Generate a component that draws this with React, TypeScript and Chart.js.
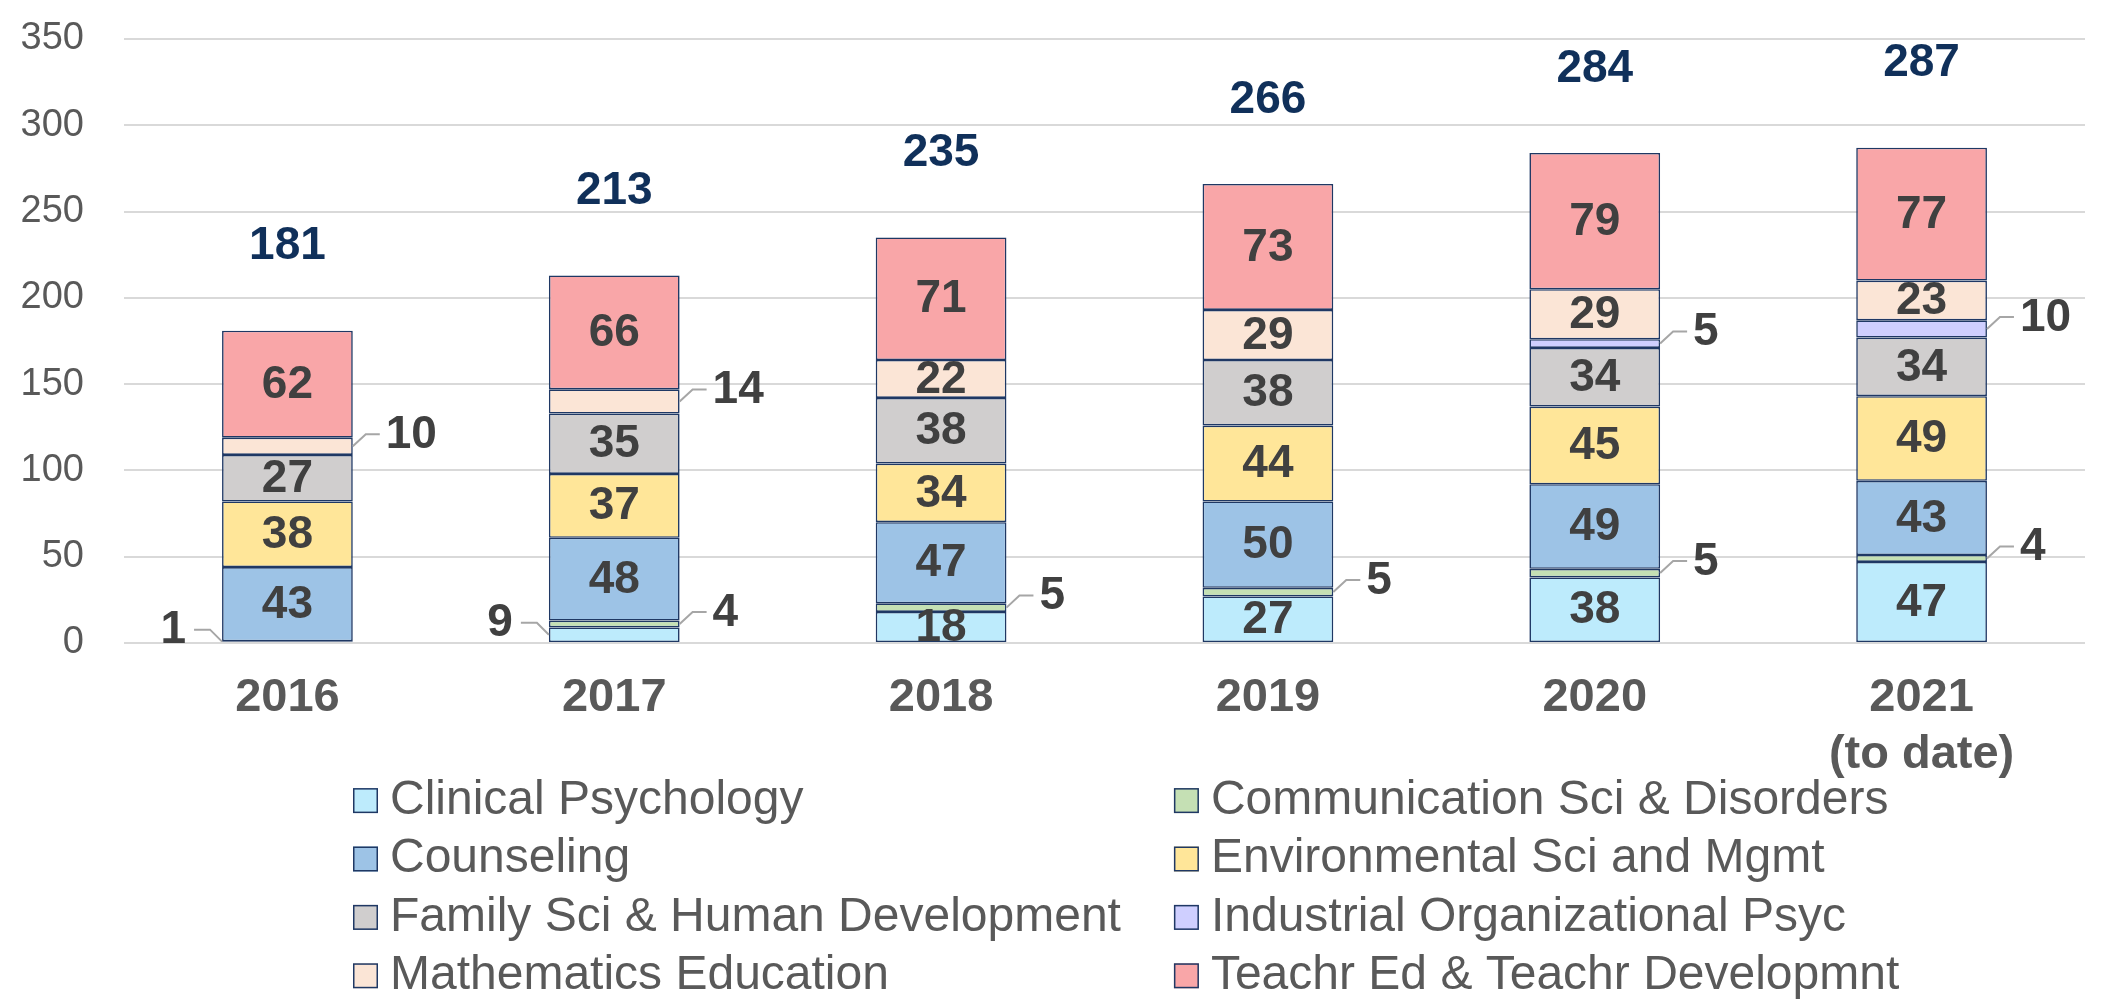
import React, { useEffect, useRef } from 'react';
import { Chart, registerables } from 'chart.js';

Chart.register(...registerables);

// ---------- data ----------
const years: string[][] = [['2016'], ['2017'], ['2018'], ['2019'], ['2020'], ['2021', '(to date)']];

const seriesNames = [
  'Clinical Psychology',
  'Communication Sci & Disorders',
  'Counseling',
  'Environmental Sci and Mgmt',
  'Family Sci & Human Development',
  'Industrial Organizational Psyc',
  'Mathematics Education',
  'Teachr Ed & Teachr Developmnt',
];

const clinicalPsychology = [1, 9, 18, 27, 38, 47];
const communicationSci = [0, 4, 5, 5, 5, 4];
const counseling = [43, 48, 47, 50, 49, 43];
const environmentalSci = [38, 37, 34, 44, 45, 49];
const familySci = [27, 35, 38, 38, 34, 34];
const industrialOrgPsyc = [0, 0, 0, 0, 5, 10];
const mathematicsEducation = [10, 14, 22, 29, 29, 23];
const teacherEd = [62, 66, 71, 73, 79, 77];

const totals = [181, 213, 235, 266, 284, 287];

const yMin = 0;
const yMax = 350;
const yStep = 50;

// ---------- styles ----------
const seriesColors = ['#BDEBFC', '#C5E0B4', '#9DC3E6', '#FFE699', '#D0CECE', '#CFCFFF', '#FBE5D6', '#F9A6A8'];
const FONT = "'Liberation Sans', Arial, Helvetica, sans-serif";
const BORDER = '#1F3864';
const LABEL_COLOR = '#404040';
const TOTAL_COLOR = '#10305A';
const AXIS_TEXT = '#595959';
const GRID = '#D9D9D9';

const allSeries = [
  clinicalPsychology,
  communicationSci,
  counseling,
  environmentalSci,
  familySci,
  industrialOrgPsyc,
  mathematicsEducation,
  teacherEd,
];

const SMALL_LIMIT = 14;

const segmentLabels = {
  id: 'segmentLabels',
  afterDatasetsDraw(chart: any) {
    const ctx = chart.ctx as CanvasRenderingContext2D;
    const yScale = chart.scales.y;
    ctx.save();
    ctx.font = `bold 46px ${FONT}`;
    ctx.textBaseline = 'middle';
    chart.data.datasets.forEach((ds: any, di: number) => {
      const meta = chart.getDatasetMeta(di);
      meta.data.forEach((bar: any, i: number) => {
        const v = ds.data[i];
        if (!v) return;
        const p = bar.getProps(['x', 'y', 'base', 'width'], true);
        const cy = (p.y + p.base) / 2;
        ctx.fillStyle = LABEL_COLOR;
        if (v > SMALL_LIMIT) {
          ctx.textAlign = 'center';
          ctx.fillText(String(v), p.x, cy + 1);
        } else {
          const ly = cy - 12;
          ctx.strokeStyle = '#A6A6A6';
          ctx.lineWidth = 2;
          ctx.beginPath();
          if (di === 0) {
            const edge = p.x - p.width / 2;
            const lx = edge - 36;
            ctx.moveTo(edge, cy);
            ctx.lineTo(edge - 12, ly);
            ctx.lineTo(lx + 8, ly);
            ctx.stroke();
            ctx.textAlign = 'right';
            ctx.fillText(String(v), lx, ly + 1);
          } else {
            const edge = p.x + p.width / 2;
            const lx = edge + 33;
            ctx.moveTo(edge, cy);
            ctx.lineTo(edge + 13, ly);
            ctx.lineTo(lx - 6, ly);
            ctx.stroke();
            ctx.textAlign = 'left';
            ctx.fillText(String(v), lx, ly + 1);
          }
        }
      });
    });
    // totals
    const meta0 = chart.getDatasetMeta(0);
    ctx.font = `bold 46px ${FONT}`;
    ctx.fillStyle = TOTAL_COLOR;
    ctx.textAlign = 'center';
    totals.forEach((t, i) => {
      const x = meta0.data[i].x;
      const y = yScale.getPixelForValue(t) - 84;
      ctx.fillText(String(t), x, y);
    });
    ctx.restore();
  },
};

const gridLegend = {
  id: 'gridLegend',
  afterDraw(chart: any) {
    const ctx = chart.ctx as CanvasRenderingContext2D;
    ctx.save();
    ctx.font = `48px ${FONT}`;
    ctx.textBaseline = 'middle';
    ctx.textAlign = 'left';
    const col1Names = seriesNames.filter((_, i) => i % 2 === 0);
    const col1Width = Math.max(...col1Names.map((n) => ctx.measureText(n).width));
    const boxSize = 25;
    const textGap = 12;
    const colGap = 53;
    const startX = 353;
    const col2X = startX + boxSize + textGap + col1Width + colGap;
    const rowH = 58.4;
    const firstRow = chart.height - 26.2 - 3 * rowH;
    seriesNames.forEach((name, i) => {
      const col = i % 2;
      const row = Math.floor(i / 2);
      const bx = col === 0 ? startX : col2X;
      const cy = firstRow + row * rowH;
      ctx.fillStyle = seriesColors[i];
      ctx.fillRect(bx, cy - boxSize / 2, boxSize, boxSize);
      ctx.strokeStyle = BORDER;
      ctx.lineWidth = 1.5;
      ctx.strokeRect(bx + 0.75, cy - boxSize / 2 + 0.75, boxSize - 1.5, boxSize - 1.5);
      ctx.fillStyle = AXIS_TEXT;
      ctx.fillText(name, bx + boxSize + textGap, cy);
    });
    ctx.restore();
  },
};

export default function App() {
  const canvasRef = useRef<HTMLCanvasElement | null>(null);

  useEffect(() => {
    if (!canvasRef.current) return;
    const chart = new Chart(canvasRef.current, {
      type: 'bar',
      data: {
        labels: years,
        datasets: allSeries.map((d, i) => ({
          label: seriesNames[i],
          data: d,
          backgroundColor: seriesColors[i],
          borderColor: BORDER,
          borderWidth: 1.6,
          borderSkipped: false,
          categoryPercentage: 1,
          barPercentage: 0.4,
        })),
      },
      options: {
        responsive: false,
        animation: false,
        devicePixelRatio: 1,
        layout: { padding: { top: 39, right: 17, bottom: 219, left: 0 } },
        plugins: {
          legend: { display: false },
          tooltip: { enabled: false },
          title: { display: false },
        },
        scales: {
          x: {
            stacked: true,
            grid: { display: false, drawTicks: false },
            border: { display: false },
            ticks: {
              color: AXIS_TEXT,
              font: { family: FONT, size: 47, weight: 'bold', lineHeight: 1.2 },
              padding: 27,
              maxRotation: 0,
              autoSkip: false,
            },
            afterFit: (s: any) => {
              s.height = 140;
            },
          },
          y: {
            stacked: true,
            min: yMin,
            max: yMax,
            grid: { color: GRID, lineWidth: 2, drawTicks: false },
            border: { display: false },
            ticks: {
              stepSize: yStep,
              color: AXIS_TEXT,
              font: { family: FONT, size: 38 },
              padding: 40,
            },
            afterFit: (s: any) => {
              s.width = 124;
              s.paddingTop = 0;
              s.paddingBottom = 0;
            },
          },
        },
      },
      plugins: [segmentLabels, gridLegend],
    });
    return () => chart.destroy();
  }, []);

  return (
    <div style={{ position: 'absolute', left: 0, top: 0, width: 2102, height: 1002, background: '#fff' }}>
      <canvas ref={canvasRef} width={2102} height={1002} style={{ display: 'block' }} />
    </div>
  );
}
